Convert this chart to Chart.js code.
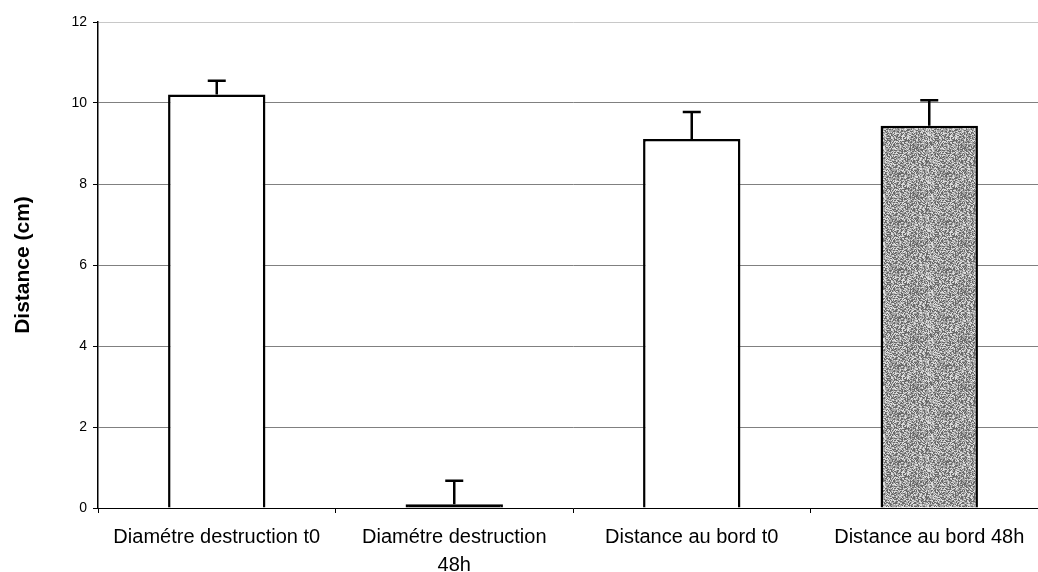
<!DOCTYPE html>
<html>
<head>
<meta charset="utf-8">
<script src="https://cdn.jsdelivr.net/npm/chart.js@4/dist/chart.umd.min.js"></script>
<style>
html,body{margin:0;padding:0;background:#fff;overflow:hidden;}
#wrap{width:1038px;height:572px;position:relative;overflow:hidden;}
canvas{position:absolute;left:0;top:0;}
</style>
</head>
<body>
<div id="wrap"><canvas id="c" width="1050" height="572"></canvas></div>
<script>
const categories = [
  'Diamétre destruction t0',
  ['Diamétre destruction', '48h'],
  'Distance au bord t0',
  'Distance au bord 48h'
];
const means = [10.21, 0.09, 9.11, 9.44];
const errors = [0.34, 0.58, 0.67, 0.63];
const yTicks = [0, 2, 4, 6, 8, 10, 12];

// speckled grey texture for the last bar (deterministic)
function makeTexture() {
  const c = document.createElement('canvas');
  c.width = 48; c.height = 48;
  const g = c.getContext('2d');
  const img = g.createImageData(48, 48);
  for (let i = 0; i < 48 * 48; i++) {
    const h = Math.abs(Math.sin(i * 12.9898 + 78.233) * 43758.5453) % 1;
    const v = h < 0.35 ? 105 : (h < 0.75 ? 165 : 220);
    img.data[i * 4] = v; img.data[i * 4 + 1] = v; img.data[i * 4 + 2] = v; img.data[i * 4 + 3] = 255;
  }
  g.putImageData(img, 0, 0);
  return document.getElementById('c').getContext('2d').createPattern(c, 'repeat');
}
const texture = makeTexture();

const errorBars = {
  id: 'errorBars',
  afterDatasetsDraw(chart) {
    const ctx = chart.ctx;
    const meta = chart.getDatasetMeta(0);
    const ys = chart.scales.y;
    ctx.save();
    ctx.strokeStyle = '#000';
    ctx.lineWidth = 2.5;
    meta.data.forEach((bar, i) => {
      const x = bar.x;
      const yTop = ys.getPixelForValue(means[i]);
      const yErr = ys.getPixelForValue(means[i] + errors[i]);
      ctx.beginPath();
      ctx.moveTo(x, yTop);
      ctx.lineTo(x, yErr);
      ctx.moveTo(x - 9, yErr);
      ctx.lineTo(x + 9, yErr);
      ctx.stroke();
    });
    ctx.restore();
  }
};

new Chart(document.getElementById('c'), {
  type: 'bar',
  data: {
    labels: categories,
    datasets: [{
      data: means,
      backgroundColor: ['#ffffff', '#000000', '#ffffff', texture],
      borderColor: '#000',
      borderWidth: 2.5,
      barPercentage: 0.41,
      categoryPercentage: 1.0
    }]
  },
  options: {
    responsive: false,
    animation: false,
    layout: { padding: { top: 22, right: 2, left: 0, bottom: 0 } },
    plugins: { legend: { display: false }, tooltip: { enabled: false } },
    scales: {
      x: {
        grid: { offset: true, drawOnChartArea: false, drawTicks: true, tickLength: 5, color: '#000' },
        border: { color: '#000', width: 1 },
        ticks: { color: '#000', font: { family: 'Liberation Sans', size: 20, lineHeight: 1.38 }, maxRotation: 0, padding: 11 },
        afterFit(s) { s.height = 64; }
      },
      y: {
        min: 0, max: 12,
        afterBuildTicks(s) { s.ticks = yTicks.map(v => ({ value: v })); },
        grid: {
          color: ctx => ctx.tick && ctx.tick.value === 12 ? '#c8c8c8' : '#808080',
          tickColor: '#000',
          tickLength: 5,
          lineWidth: 1
        },
        border: { color: '#000', width: 1.5 },
        ticks: { color: '#000', font: { family: 'Liberation Sans', size: 14 }, padding: 6 },
        title: { display: true, text: 'Distance (cm)', color: '#000', font: { family: 'Liberation Sans', size: 21, weight: 'bold' }, padding: { top: 11, bottom: 0 } },
        afterFit(s) { s.width = 98; }
      }
    }
  },
  plugins: [errorBars]
});
</script>
</body>
</html>
